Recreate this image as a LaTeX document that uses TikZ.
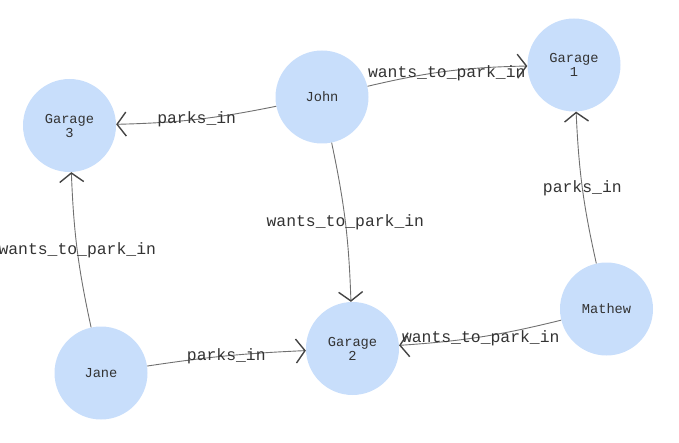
\documentclass[tikz,border=0pt]{standalone}
\usepackage{fontspec}
\setmonofont{Liberation Mono}
\usetikzlibrary{arrows.meta}
\definecolor{nodefill}{HTML}{C8DEFB}
\definecolor{edgecol}{HTML}{707070}
\definecolor{tipcol}{HTML}{444444}
\definecolor{txt}{HTML}{333333}
\begin{document}
\begin{tikzpicture}[x=1pt,y=1pt,
  ent/.style={circle,fill=nodefill,minimum size=93pt,inner sep=0pt,align=center,
    font=\fontsize{13.7}{14}\ttfamily,text=txt},
  rel/.style={draw=edgecol,line width=0.9pt,
    -{Straight Barb[length=9pt,width=24pt,line width=1.4pt,color=tipcol]}},
  lbl/.style={font=\fontsize{16.4}{18}\ttfamily,text=txt,inner sep=0pt}]
\useasboundingbox (0,0) rectangle (679,442);
\node[ent] (john) at (322,345) {John};
\node[ent] (g1) at (574,377) {Garage\\1};
\node[ent] (g3) at (69.5,316.5) {Garage\\3};
\node[ent] (g2) at (352.5,93.5) {Garage\\2};
\node[ent] (mathew) at (606.5,133) {Mathew};
\node[ent] (jane) at (101,69) {Jane};
\draw[rel] (john) to[bend left=6] node[lbl,yshift=-2pt] {wants\_to\_park\_in} (g1);
\draw[rel] (john) to[bend left=5] node[lbl] {parks\_in} (g3);
\draw[rel] (john) to[bend left=5] node[lbl] {wants\_to\_park\_in} (g2);
\draw[rel] (mathew) to[bend left=5] node[lbl] {parks\_in} (g1);
\draw[rel] (mathew) to[bend left=5] node[lbl,yshift=-1pt] {wants\_to\_park\_in} (g2);
\draw[rel] (jane) to[bend left=5] node[lbl] {wants\_to\_park\_in} (g3);
\draw[rel] (jane) to[bend left=3] node[lbl] {parks\_in} (g2);
\end{tikzpicture}
\end{document}
